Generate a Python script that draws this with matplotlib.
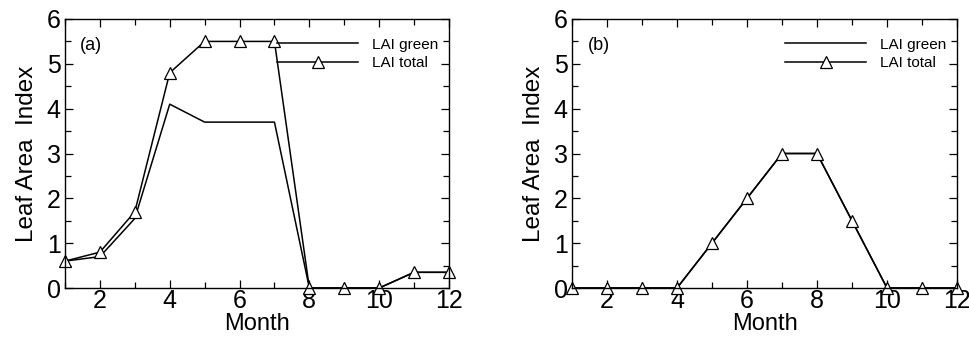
import matplotlib
matplotlib.use("Agg")
import matplotlib.pyplot as plt
from matplotlib.ticker import MultipleLocator

plt.rcParams["font.family"] = ["Liberation Sans", "DejaVu Sans"]

months = list(range(1, 13))
a_green = [0.6, 0.7, 1.55, 4.1, 3.7, 3.7, 3.7, 0, 0, 0, 0.35, 0.35]
a_total = [0.6, 0.8, 1.7, 4.8, 5.5, 5.5, 5.5, 0, 0, 0, 0.35, 0.35]
b_green = [0, 0, 0, 0, 1, 2, 3, 3, 1.5, 0, 0, 0]
b_total = [0, 0, 0, 0, 1, 2, 3, 3, 1.5, 0, 0, 0]

fig = plt.figure(figsize=(9.7, 3.37), dpi=100)
# axes boxes in pixels: (left, right) and shared top/bottom
boxes = [(65, 449), (572, 957)]
top, bottom = 19, 288
W, H = 970, 337
panels = [("(a)", a_green, a_total), ("(b)", b_green, b_total)]

for (l, r), (tag, green, total) in zip(boxes, panels):
    ax = fig.add_axes([l / W, 1 - bottom / H, (r - l) / W, (bottom - top) / H])
    ax.plot(months, green, color="black", lw=1.1, label="LAI green")
    ax.plot(months, total, color="black", lw=1.1, marker="^", ms=8.5,
            mfc="white", mec="black", mew=0.9, label="LAI total", clip_on=False)
    ax.set_xlim(1, 12)
    ax.set_ylim(0, 6)
    ax.xaxis.set_major_locator(MultipleLocator(2))
    ax.xaxis.set_minor_locator(MultipleLocator(1))
    ax.yaxis.set_major_locator(MultipleLocator(1))
    ax.yaxis.set_minor_locator(MultipleLocator(0.5))
    ax.tick_params(which="both", direction="in", top=True, right=True,
                   labelsize=18, width=0.9)
    ax.tick_params(which="major", length=6)
    ax.tick_params(which="minor", length=4)
    ax.tick_params(axis="x", pad=1)
    ax.tick_params(axis="y", pad=3)
    for s in ax.spines.values():
        s.set_linewidth(1.0)
    ax.set_xlabel("Month", fontsize=17, labelpad=-0.5)
    ax.set_ylabel("Leaf Area  Index", fontsize=17.5, labelpad=6)
    ax.text(0.04, 0.90, tag, transform=ax.transAxes, fontsize=13, va="center")
    ax.legend(loc="upper right", bbox_to_anchor=(1.0, 0.97), frameon=False,
              fontsize=11, handlelength=5.3, handletextpad=0.9,
              labelspacing=0.3, borderaxespad=0.3)

fig.savefig("out.png", dpi=100)
